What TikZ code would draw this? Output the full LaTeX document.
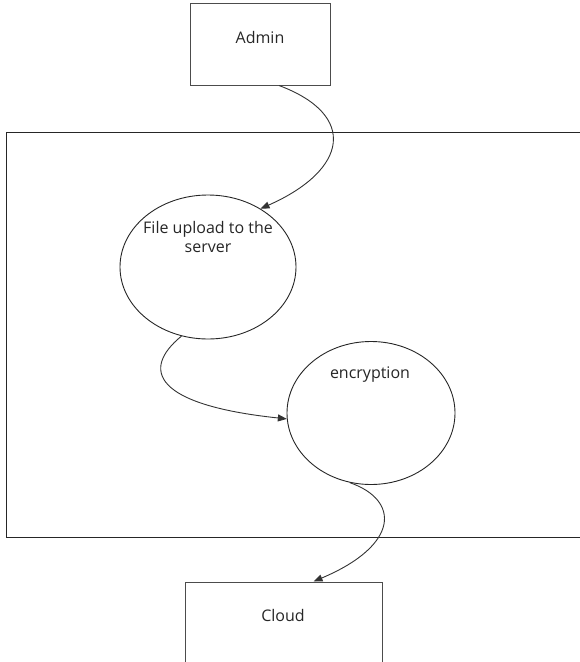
\documentclass[tikz,border=0pt]{standalone}
\usepackage{fontspec}
\setmainfont{Open Sans}
\usetikzlibrary{shapes.geometric,arrows.meta}
\tikzset{
  box/.style={draw=black!70, line width=1pt, rectangle, inner sep=0pt},
  proc/.style={draw=black!85, line width=0.9pt, ellipse, inner sep=0pt},
  lbl/.style={font=\fontsize{16}{19.5}\selectfont, text=black!85, align=center, inner sep=0pt},
  flow/.style={draw=black!80, line width=0.9pt, -{Triangle[length=9pt,width=7pt]}},
}
\begin{document}
\begin{tikzpicture}[x=1pt,y=-1pt]
\useasboundingbox (0,0) rectangle (579,662);
% system boundary
\draw[black!85, line width=1pt] (585,132) -- (6,132) -- (6,537) -- (585,537);
% nodes
\node[box, minimum width=140pt, minimum height=82pt] (admin) at (260,44) {};
\node[lbl] (adminlbl) at (260,37) {Admin};
\node[proc, minimum width=176pt, minimum height=144pt] (c1) at (208,267) {};
\node[lbl] (c1lbl) at (208,237) {File upload to the\\server};
\node[proc, minimum width=168pt, minimum height=143pt] (c2) at (371,413) {};
\node[lbl] (c2lbl) at (370,375) {encryption};
\node[box, minimum width=197pt, minimum height=84pt] (cloud) at (283.5,624) {};
\node[lbl] (cloudlbl) at (283,615) {Cloud};
% connectors
\draw[flow] ([xshift=19pt]admin.south) .. controls (358,115) and (348,170) .. (c1.48);
\draw[flow] (c1.249) .. controls (140,370) and (155,405) .. (c2.184);
\draw[flow] (c2.253) .. controls (400,500) and (400,545) .. ([xshift=30pt]cloud.north);
\end{tikzpicture}
\end{document}
